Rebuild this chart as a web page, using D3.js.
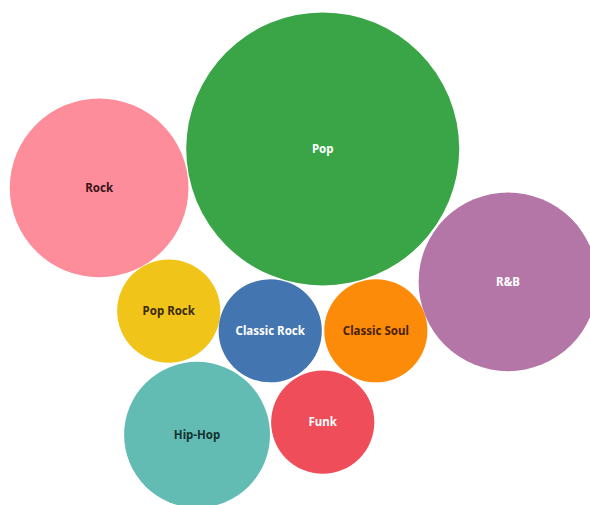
<!DOCTYPE html>
<html>
<head>
<meta charset="utf-8">
<script src="https://cdn.jsdelivr.net/npm/d3@7"></script>
<style>
  html, body { margin: 0; padding: 0; background: #ffffff; }
  svg { display: block; }
</style>
</head>
<body>
<svg id="chart" width="590" height="505"></svg>
<script>
// ---- data ----
const genres = ["Pop", "Rock", "R&B", "Pop Rock", "Classic Rock", "Classic Soul", "Hip-Hop", "Funk"];
const counts = [7, 3, 3, 1, 1, 1, 2, 1];
const colors = ["#3aa547", "#fd8d9a", "#b476a6", "#f1c419", "#4376b1", "#fd8b0a", "#63bcb4", "#ef4d59"];
const labelColors = ["#ffffff", "#3a1418", "#ffffff", "#3b2a05", "#ffffff", "#4a1f00", "#123330", "#ffffff"];

// ---- layout hints (fractions of the canvas) used as force targets ----
const anchorX = [0.547, 0.168, 0.861, 0.286, 0.458, 0.637, 0.334, 0.547];
const anchorY = [0.295, 0.372, 0.558, 0.616, 0.655, 0.655, 0.861, 0.836];

const W = 590, H = 505;
const svg = d3.select("#chart");

const r = d3.scaleSqrt().domain([0, d3.max(counts)]).range([0, 136.5]);

const nodes = genres.map((g, i) => ({
  name: g, value: counts[i], color: colors[i], text: labelColors[i],
  tx: anchorX[i] * W, ty: anchorY[i] * H,
  x: anchorX[i] * W, y: anchorY[i] * H, rad: r(counts[i])
}));

const sim = d3.forceSimulation(nodes)
  .force("x", d3.forceX(d => d.tx).strength(0.8))
  .force("y", d3.forceY(d => d.ty).strength(0.8))
  .force("collide", d3.forceCollide(d => d.rad).iterations(2))
  .stop();
for (let i = 0; i < 300; i++) sim.tick();

const g = svg.selectAll("g.bubble").data(nodes).join("g")
  .attr("class", "bubble")
  .attr("transform", d => `translate(${d.x},${d.y})`);

g.append("circle")
  .attr("r", d => d.rad)
  .attr("fill", d => d.color);

g.append("text")
  .attr("text-anchor", "middle")
  .attr("dy", "0.35em")
  .attr("fill", d => d.text)
  .style("font-family", "'Noto Sans', 'DejaVu Sans', sans-serif")
  .style("font-weight", "bold")
  .style("font-size", "11.5px")
  .text(d => d.name);
</script>
</body>
</html>
